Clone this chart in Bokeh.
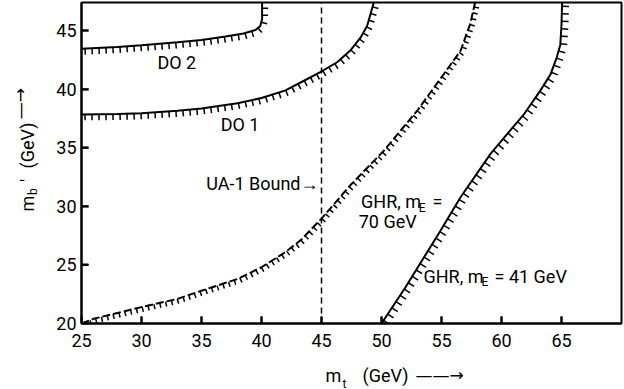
import numpy as np
from bokeh.plotting import figure
from bokeh.models import Range1d, FixedTicker, Label, LinearAxis
from bokeh.embed import file_html
from bokeh.resources import INLINE

# ---- data ----
x_ticks = [25, 30, 35, 40, 45, 50, 55, 60, 65]
y_ticks = [20, 25, 30, 35, 40, 45]

do2_x = [25, 28, 30, 33, 35, 37, 38.5, 39.5, 39.9, 40.05, 40.05]
do2_y = [43.45, 43.6, 43.75, 44.0, 44.2, 44.5, 44.75, 45.05, 45.4, 46.0, 47.4]

do1_x = [25, 28, 30, 33, 35, 38, 40, 42, 43.5, 44.9, 46.3, 47.4, 48.25, 48.8, 49.36]
do1_y = [37.85, 37.88, 37.95, 38.15, 38.35, 38.8, 39.25, 39.9, 40.7, 41.45, 42.3, 43.3, 44.4, 45.4, 47.4]

ghr70_x = [25, 26, 28, 30, 33, 35, 38, 40, 42, 43.25, 45, 47.4, 50.2, 53, 55.2, 56.6, 57.4, 57.8]
ghr70_y = [20.0, 20.4, 20.9, 21.4, 22.1, 22.8, 23.8, 24.8, 26.1, 27.1, 28.95, 31.8, 34.75, 38.2, 41.3, 43.3, 45.6, 47.4]

ghr41_x = [50, 52, 54.9, 56.6, 59.1, 60.5, 61.9, 63.25, 64.1, 64.6, 64.9, 65.0, 65.05]
ghr41_y = [20, 23.1, 27.9, 30.8, 34.5, 36.2, 37.9, 39.9, 41.3, 42.7, 43.8, 45.5, 47.4]

ua1_bound = 45

# ---- layout ----
X0, X1, Y0, Y1 = 25, 70, 20, 47.4
FW, FH = 540, 321
kx = FW / (X1 - X0)
ky = FH / (Y1 - Y0)
FONT = "Roboto"

p = figure(frame_width=FW, frame_height=FH,
           x_range=Range1d(X0, X1), y_range=Range1d(Y0, Y1),
           output_backend="svg", toolbar_location=None,
           min_border_left=81, min_border_right=3, min_border_top=2, min_border_bottom=66,
           background_fill_color="white", border_fill_color="white")
p.grid.visible = False
p.outline_line_color = "black"
p.outline_line_width = 2

for ax in (p.xaxis[0], p.yaxis[0]):
    ax.axis_line_width = 2
    ax.axis_line_color = "black"
    ax.major_tick_in = 7
    ax.major_tick_out = 0
    ax.major_tick_line_width = 2
    ax.minor_tick_in = 0
    ax.minor_tick_out = 0
    ax.major_label_text_font = FONT
    ax.major_label_text_font_size = "18px"
    ax.major_label_text_color = "black"
p.xaxis.ticker = FixedTicker(ticks=x_ticks)
p.yaxis.ticker = FixedTicker(ticks=y_ticks)
p.xaxis.major_label_standoff = 10
p.yaxis.major_label_standoff = 5

# inner tick marks (at the tick values)
p.segment(x_ticks, [Y0] * len(x_ticks), x_ticks, [Y0 + 7 / ky] * len(x_ticks),
          line_color="black", line_width=2)
p.segment([X0] * len(y_ticks), y_ticks, [X0 + 7 / kx] * len(y_ticks), y_ticks,
          line_color="black", line_width=2)


def hatch(xs, ys, spacing, length):
    X = (np.asarray(xs, float) - X0) * kx
    Y = (np.asarray(ys, float) - Y0) * ky
    seg = np.hypot(np.diff(X), np.diff(Y))
    s = np.concatenate([[0.0], np.cumsum(seg)])
    t = np.arange(spacing / 2, s[-1], spacing)
    px = np.interp(t, s, X)
    py = np.interp(t, s, Y)
    d = 2.5
    tx = np.interp(t + d, s, X) - np.interp(t - d, s, X)
    ty = np.interp(t + d, s, Y) - np.interp(t - d, s, Y)
    n = np.hypot(tx, ty)
    tx, ty = tx / n, ty / n
    nx, ny = ty, -tx
    return (X0 + px / kx, Y0 + py / ky,
            X0 + (px + length * nx) / kx, Y0 + (py + length * ny) / ky)


for cx, cy in ((do2_x, do2_y), (do1_x, do1_y), (ghr41_x, ghr41_y)):
    p.line(cx, cy, line_color="black", line_width=2)
p.line(ghr70_x, ghr70_y, line_color="black", line_width=2, line_dash="8 3")

for cx, cy, sp, ln in ((do2_x, do2_y, 7, 6), (do1_x, do1_y, 7, 6),
                       (ghr41_x, ghr41_y, 7.5, 7), (ghr70_x, ghr70_y, 6, 5)):
    a, b, c, d_ = hatch(cx, cy, sp, ln)
    p.segment(a, b, c, d_, line_color="black", line_width=1.5)

p.line([ua1_bound, ua1_bound], [Y0, Y1], line_color="black", line_width=1.5, line_dash="6 4")


def lab(x, y, text, size="18px", align="left"):
    p.add_layout(Label(x=x, y=y, text=text, text_font=FONT, text_font_size=size,
                       text_color="black", text_align=align, text_baseline="middle"))


lab(31.33, 42.25, "DO 2")
lab(36.6, 36.97, "DO 1")
lab(44.75, 31.94, "UA-1 Bound→", align="right")
lab(48.3, 30.45, "GHR, m")
lab(53.1, 29.9, "E", size="12px")
lab(54.25, 30.45, "=")
lab(48.1, 28.74, "70 GeV")
lab(53.5, 24.05, "GHR, m")
lab(58.33, 23.5, "E", size="12px")
lab(59.42, 24.05, "= 41 GeV")

# ---- axis titles built from label-only axes (pixel ranges) ----
p.extra_x_ranges = {"px": Range1d(0, FW)}
p.extra_y_ranges = {"py": Range1d(0, FH)}


def title_axis(place, items, size, standoff, vertical=False, font=FONT):
    if place == "below":
        ax = LinearAxis(x_range_name="px")
    else:
        ax = LinearAxis(y_range_name="py")
    ax.ticker = FixedTicker(ticks=[k for k, _ in items])
    ax.major_label_overrides = {k: v for k, v in items}
    ax.axis_line_color = None
    ax.major_tick_line_color = None
    ax.minor_tick_line_color = None
    ax.major_tick_in = 0
    ax.major_tick_out = 0
    ax.major_label_standoff = standoff
    ax.major_label_text_font = font
    ax.major_label_text_font_size = size
    ax.major_label_text_color = "black"
    if vertical:
        ax.major_label_orientation = "vertical"
    p.add_layout(ax, place)


# x title: m_t (GeV) -->
title_axis("below", [(263, "t")], "12px", 27)
title_axis("below", [(252, "m"), (304, "(GeV)")], "18px", -29)
title_axis("below", [(358, "——→")], "17px", -29, font="DejaVu Sans")
# y title: m_b' (GeV) -->
title_axis("left", [(120, "m"), (143, "'"), (178, "(GeV)")], "18px", 16, vertical=True)
title_axis("left", [(132, "b")], "12px", -26, vertical=True)
title_axis("left", [(220, "—→")], "17px", -16, vertical=True, font="DejaVu Sans")

open("out.html", "w").write(file_html(p, INLINE))
